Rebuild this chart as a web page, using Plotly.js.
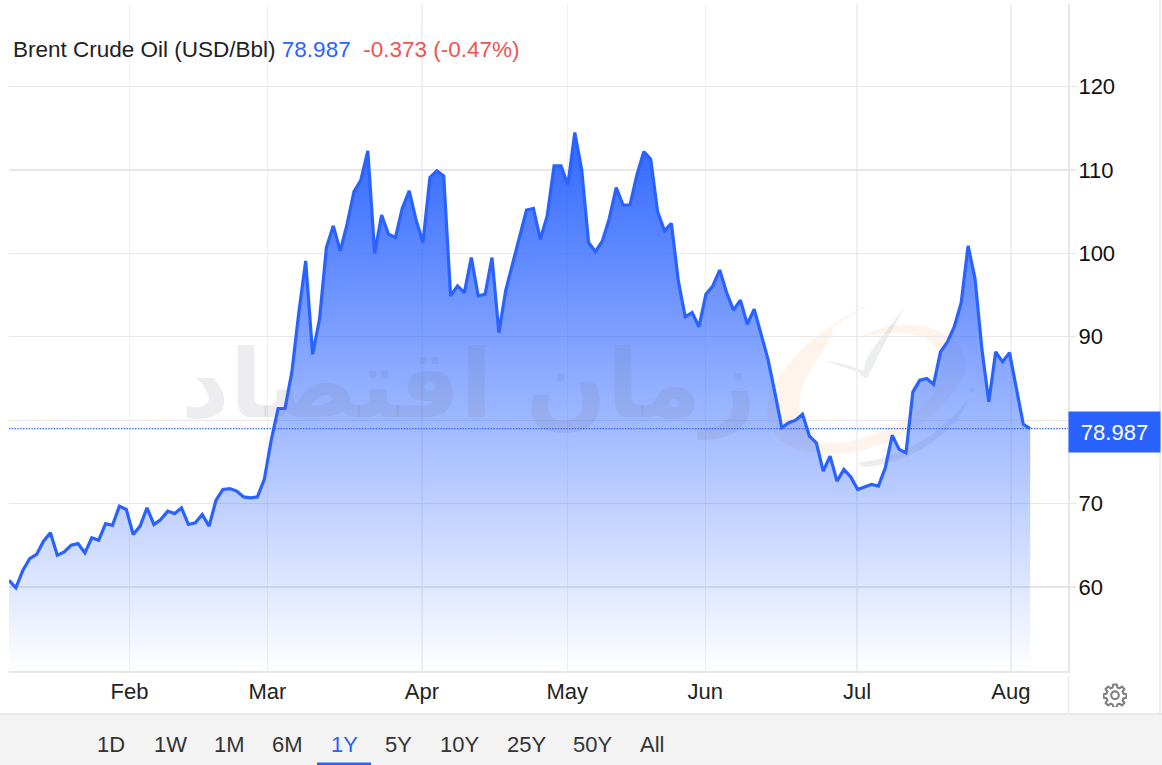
<!DOCTYPE html>
<html><head><meta charset="utf-8">
<script src="https://cdn.plot.ly/plotly-3.0.1.min.js"></script>
<style>html,body{margin:0;padding:0;background:#fff;overflow:hidden}#chart{width:1162px;height:765px}</style>
</head><body><div id="chart"></div>
<script>
const seriesName = 'Brent Crude Oil (USD/Bbl)';
const lastLabel = '78.987';
const changeLabel = '-0.373 (-0.47%)';
const watermarkText = 'زمان اقتصاد';
const prices = [
 60.8,59.9,62.0,63.4,63.9,65.5,66.5,63.8,64.2,65.0,65.2,64.1,65.9,65.6,67.6,67.4,69.7,69.3,66.3,67.3,
 69.5,67.5,68.1,69.1,68.8,69.5,67.5,67.7,68.7,67.3,70.4,71.7,71.8,71.5,70.8,70.7,70.8,72.9,77.6,81.4,
 81.4,85.8,92.9,99.1,87.9,92.1,100.7,103.3,100.3,103.5,107.4,108.8,112.3,100.0,104.6,102.3,101.9,105.4,107.5,104.0,
 101.3,109.1,109.9,109.3,94.9,96.1,95.3,99.5,94.9,95.1,99.5,90.5,95.6,98.8,102.1,105.2,105.4,101.7,104.5,110.5,
 110.5,108.2,114.5,110.0,101.3,100.2,101.5,104.2,107.9,105.8,105.8,109.4,112.2,111.3,105.0,102.7,103.6,96.7,92.4,92.9,
 91.2,95.1,96.1,98.0,95.3,93.2,94.4,91.5,93.3,90.3,87.3,83.3,79.1,79.7,80.0,80.7,78.1,77.3,73.9,75.7,
 72.7,74.1,73.2,71.7,72.0,72.3,72.1,74.3,78.2,76.5,76.1,83.4,84.8,85.0,84.3,88.2,89.4,91.2,94.1,100.9,
 97.0,88.5,82.2,88.2,87.0,88.1,83.8,79.5,78.987];
const sessionIndex = prices.map((_, i) => i);
const monthLabels = ['Feb','Mar','Apr','May','Jun','Jul','Aug'];
const monthSessions = [17.46,37.46,59.85,80.9,100.9,122.9,145.2];
const priceTicks = [60,70,80,90,100,110,120];
const rangeButtons = ['1D','1W','1M','6M','1Y','5Y','10Y','25Y','50Y','All'];
const rangeCenters = [111,170,229,287,344,398,459,526,592,652];
const activeRange = '1Y';

const BLUE = '#2962ff', GRID = '#e7e7e7', TXT = '#222222';
const L = 9, R = 1068, T = 4, B = 671;
const px = x => (x - L) / (R - L);
const py = y => (B - y) / (B - T);
const FONT = '"Liberation Sans", Arial, sans-serif';
const FS = 22;

const logoSvg = `<svg xmlns="http://www.w3.org/2000/svg" viewBox="0 0 220 200" width="220" height="200">
<g transform="translate(-760,-290)">
<path fill="rgb(245,150,70)" fill-opacity="0.1" d="M880 299 C 835 318 778 358 768 405 C 762 440 795 455 838 454 C 900 450 950 408 965 372 C 972 340 935 322 900 325 C 885 326 870 331 858 338 C 880 333 905 329 925 338 C 945 350 948 375 930 398 C 905 425 860 445 825 443 C 800 440 795 412 803 385 C 812 360 832 345 833 327 C 848 318 865 306 880 299 Z"/>
<path fill="rgb(110,115,125)" fill-opacity="0.13" d="M905 306 L 876 360 C 873 368 870 372 868 378 C 864 378 860 376 860 373 L 827 361 C 840 362 855 368 864 371 C 864 362 868 356 872 350 C 884 334 896 318 905 306 Z"/>
<path fill="rgb(110,115,125)" fill-opacity="0.13" d="M860 462 C 905 458 945 430 968 399 C 960 428 915 462 866 467 C 860 467 858 464 860 462 Z"/>
<circle cx="972" cy="390" r="2.5" fill="rgb(110,115,125)" fill-opacity="0.13"/>
</g></svg>`;
const gearSvg = `<svg xmlns="http://www.w3.org/2000/svg" viewBox="0 0 24 24" width="24" height="24"><path fill="none" stroke="#808080" stroke-width="2.1" stroke-linejoin="round" d="M10.2 1.5h3.6l.6 3.1 1.9.8 2.6-1.8 2.5 2.5-1.8 2.6.8 1.9 3 .6v3.6l-3 .6-.8 1.9 1.8 2.6-2.5 2.5-2.6-1.8-1.9.8-.6 3h-3.6l-.6-3-1.9-.8-2.6 1.8-2.5-2.5 1.8-2.6-.8-1.9-3-.6v-3.6l3-.6.8-1.9-1.8-2.6 2.5-2.5 2.6 1.8 1.9-.8z"/><circle cx="12" cy="12.2" r="3.8" fill="none" stroke="#808080" stroke-width="2.1"/></svg>`;
const uri = s => 'data:image/svg+xml;utf8,' + encodeURIComponent(s);

const annotations = rangeButtons.map((t, i) => ({
  text: t, xref: 'paper', yref: 'paper', x: px(rangeCenters[i]), y: py(744),
  xanchor: 'center', yanchor: 'middle', showarrow: false,
  font: {family: FONT, size: FS, color: t === activeRange ? BLUE : '#333333'}
}));
annotations.push({
  text: watermarkText, xref: 'paper', yref: 'paper', x: px(468), y: py(384),
  xanchor: 'center', yanchor: 'middle', showarrow: false,
  font: {family: '"DejaVu Sans", sans-serif', size: 95, color: 'rgba(105,110,122,0.12)', weight: 700}
});
annotations.push({
  text: lastLabel, xref: 'paper', yref: 'y', x: 1, y: prices[prices.length - 1], yshift: -3.5,
  xanchor: 'left', yanchor: 'middle', showarrow: false, width: 91, height: 40,
  align: 'center', valign: 'middle', bgcolor: BLUE, borderpad: 0,
  font: {family: FONT, size: FS, color: '#ffffff'}
});

const layout = {
  width: 1162, height: 765,
  margin: {l: L, r: 1162 - R, t: T, b: 765 - B, pad: 0},
  paper_bgcolor: '#ffffff', plot_bgcolor: '#ffffff', showlegend: false, hovermode: false,
  title: {
    text: `<span style="color:${TXT}">${seriesName}</span> <span style="color:${BLUE}">${lastLabel}</span>&nbsp;&nbsp;<span style="color:#ef5350">${changeLabel}</span>`,
    xref: 'container', yref: 'container', x: 13 / 1162, y: 1 - 49 / 765,
    xanchor: 'left', yanchor: 'middle', font: {family: FONT, size: 22.5, color: TXT}
  },
  xaxis: {
    range: [0, (R - L) / 6.9], tickmode: 'array', tickvals: monthSessions, ticktext: monthLabels,
    showgrid: true, gridcolor: '#edf1f6', gridwidth: 1.4, zeroline: false,
    showline: true, linecolor: GRID, linewidth: 2, ticks: '', tickangle: 0,
    ticklabelstandoff: 0, ticklabelshift: 2.5,
    tickfont: {family: FONT, size: FS, color: TXT}
  },
  yaxis: {
    side: 'right', range: [49.93, 129.9], tickmode: 'array', tickvals: priceTicks,
    showgrid: true, gridcolor: GRID, gridwidth: 1.4, zeroline: false,
    showline: true, linecolor: GRID, linewidth: 2, ticks: 'outside', ticklen: 6, tickcolor: GRID, tickwidth: 1.4,
    ticklabelstandoff: -2, ticklabelshift: 1.5,
    tickfont: {family: FONT, size: FS, color: '#111111'}
  },
  shapes: [
    {type: 'rect', xref: 'paper', yref: 'paper', x0: px(0), x1: px(1162), y0: py(714), y1: py(765), fillcolor: '#f3f3f3', line: {width: 0}},
    {type: 'line', xref: 'paper', yref: 'paper', x0: px(0), x1: px(1162), y0: py(714), y1: py(714), line: {color: '#e4e4e4', width: 1.5}},
    {type: 'line', xref: 'paper', yref: 'paper', x0: px(1068.5), x1: px(1068.5), y0: py(676), y1: py(713), line: {color: '#e7e7e7', width: 1.4}},
    {type: 'line', xref: 'paper', yref: 'paper', x0: px(1160), x1: px(1160), y0: py(0), y1: py(714), line: {color: '#e7e7e7', width: 1.4}},
    {type: 'rect', xref: 'paper', yref: 'paper', x0: px(317), x1: px(371), y0: py(762.5), y1: py(765), fillcolor: BLUE, line: {width: 0}},
    {type: 'line', xref: 'paper', yref: 'y', x0: 0, x1: 1, y0: prices[prices.length - 1], y1: prices[prices.length - 1], line: {color: '#2962ff', width: 1.3, dash: '1.4px,1.4px'}}
  ],
  images: [
    {source: uri(logoSvg), xref: 'paper', yref: 'paper', x: px(760), y: py(290), sizex: 220 / (R - L), sizey: 200 / (B - T), xanchor: 'left', yanchor: 'top', sizing: 'stretch', layer: 'below'},
    {source: uri(gearSvg), xref: 'paper', yref: 'paper', x: px(1103), y: py(683), sizex: 24 / (R - L), sizey: 24 / (B - T), xanchor: 'left', yanchor: 'top', sizing: 'stretch', layer: 'above'}
  ],
  annotations
};

const data = [{
  type: 'scatter', mode: 'lines', x: sessionIndex, y: prices,
  line: {color: BLUE, width: 3.2, shape: 'linear'},
  fill: 'tozeroy',
  fillgradient: {type: 'vertical', start: 114.5, stop: 49.93, colorscale: [[0, 'rgba(41,98,255,0.97)'], [1, 'rgba(41,98,255,0)']]},
  hoverinfo: 'skip'
}];
Plotly.newPlot('chart', data, layout, {displayModeBar: false, staticPlot: true});
</script></body></html>
